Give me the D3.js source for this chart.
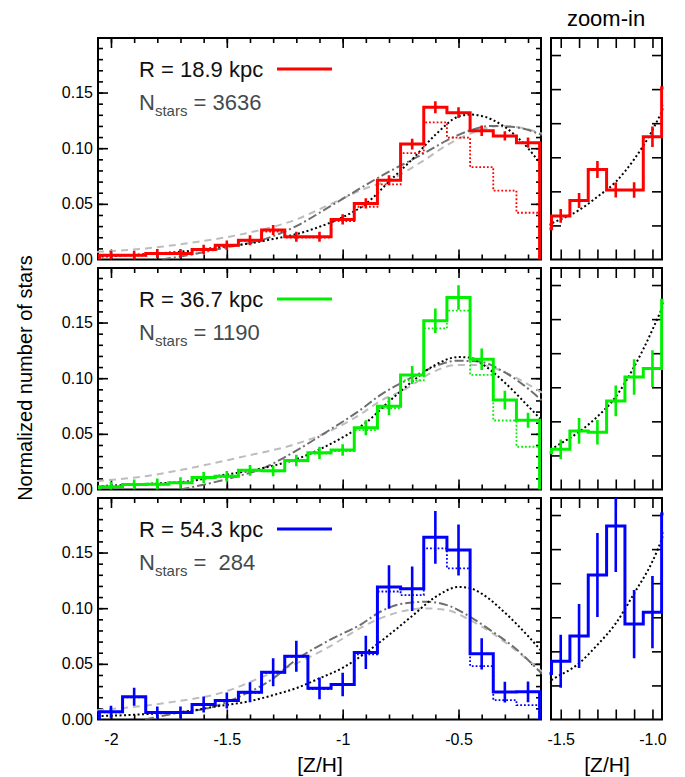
<!DOCTYPE html>
<html>
<head>
<meta charset="utf-8">
<title>[Z/H] distributions at three radii</title>
<script src="https://d3js.org/d3.v7.min.js"></script>
<style>
  body { margin: 0; background: #fff; }
  text { font-family: "Liberation Sans", Arial, Helvetica, sans-serif; }
</style>
</head>
<body>
<svg id="chart" width="685" height="777"></svg>
<script>
// histogram bins, 0.1 dex wide
var binCenters = [-2.0, -1.9, -1.8, -1.7, -1.6, -1.5, -1.4, -1.3, -1.2, -1.1, -1.0,
                  -0.9, -0.8, -0.7, -0.6, -0.5, -0.4, -0.3, -0.2];
var binWidth = 0.1;

var radii = ["18.9", "36.7", "54.3"];
var nStars = ["3636", "1190", " 284"];
var colors = ["#ff0000", "#00f000", "#0000ff"];

// R = 18.9 kpc
var redHist    = [0.0039, 0.0039, 0.0054, 0.0054, 0.009, 0.0128, 0.0173, 0.0264, 0.0204, 0.0204, 0.036,
                  0.0504, 0.0713, 0.1037, 0.1367, 0.1319, 0.1157, 0.111, 0.105];
var redHistDot = [0.0035, 0.0035, 0.005, 0.005, 0.0085, 0.0124, 0.0168, 0.025, 0.0196, 0.0196, 0.0345,
                  0.0474, 0.0675, 0.0956, 0.1232, 0.1095, 0.083, 0.0618, 0.042];
var redErr     = [0.004, 0.004, 0.004, 0.004, 0.0042, 0.0042, 0.0044, 0.0045, 0.0045, 0.0045, 0.0046,
                  0.0046, 0.0045, 0.0048, 0.0054, 0.0048, 0.0048, 0.0042, 0.0045];
var redZoomErr = [0.002, 0.0022, 0.0025, 0.0022, 0.0023, 0.003];

// R = 36.7 kpc
var greenHist    = [0.0024, 0.0045, 0.0048, 0.006, 0.0108, 0.0118, 0.0172, 0.0168, 0.026, 0.033, 0.0355,
                    0.0555, 0.0749, 0.1028, 0.1517, 0.1724, 0.117, 0.0803, 0.0622];
var greenHistDot = [0.0022, 0.0042, 0.0045, 0.0057, 0.0104, 0.0114, 0.0166, 0.0164, 0.0252, 0.0322, 0.0345,
                    0.0534, 0.0728, 0.098, 0.1448, 0.1607, 0.103, 0.062, 0.0384];
var greenErr     = [0.0045, 0.0045, 0.005, 0.005, 0.005, 0.0048, 0.0048, 0.0048, 0.0052, 0.0055, 0.0052,
                    0.0067, 0.0082, 0.0081, 0.011, 0.011, 0.0097, 0.0084, 0.0067];
var greenZoomErr = [0.0029, 0.0038, 0.0036, 0.0045, 0.0052, 0.0054];

// R = 54.3 kpc
var blueHist    = [0.0069, 0.0204, 0.0063, 0.0063, 0.0135, 0.0171, 0.0245, 0.0424, 0.0568, 0.028, 0.0315,
                   0.0603, 0.119, 0.1174, 0.1637, 0.1523, 0.059, 0.0246, 0.0249];
var blueHistDot = [0.0065, 0.02, 0.006, 0.006, 0.013, 0.0167, 0.024, 0.0418, 0.0562, 0.0274, 0.031,
                   0.0585, 0.1150, 0.1118, 0.1538, 0.1358, 0.048, 0.0174, 0.0129];
var blueErr     = [0.0054, 0.0081, 0.0054, 0.0054, 0.0072, 0.0072, 0.009, 0.0126, 0.014, 0.0097, 0.0105,
                   0.015, 0.0195, 0.02, 0.0237, 0.023, 0.014, 0.0093, 0.0093];
var blueZoomErr = [0.0078, 0.0094, 0.0123, 0.0135, 0.01, 0.0106];

var zoomBins = [-1.5, -1.4, -1.3, -1.2, -1.1, -1.0];

// model curves, [ [Z/H], fraction ]
var blackTop = [[-2.06, 0.0024], [-1.85, 0.0048], [-1.65, 0.008], [-1.55, 0.0106], [-1.4, 0.0145],
  [-1.3, 0.0184], [-1.2, 0.0228], [-1.1, 0.0294], [-1.0, 0.038], [-0.9, 0.05], [-0.8, 0.07],
  [-0.7, 0.09], [-0.6, 0.112], [-0.5, 0.1285], [-0.45, 0.1302], [-0.4, 0.129], [-0.3, 0.119],
  [-0.2, 0.1], [-0.14, 0.084]];
var dashDotTop = [[-1.78, 0], [-1.65, 0.0045], [-1.5, 0.011], [-1.35, 0.0175], [-1.2, 0.03],
  [-1.06, 0.047], [-0.9, 0.067], [-0.84, 0.0743], [-0.65, 0.0953], [-0.55, 0.107], [-0.45, 0.116],
  [-0.36, 0.12], [-0.26, 0.119], [-0.14, 0.112]];
var dashedTop = [[-2.06, 0.0068], [-1.85, 0.0099], [-1.63, 0.0158], [-1.42, 0.0234], [-1.2, 0.036],
  [-1.06, 0.049], [-0.9, 0.064], [-0.8, 0.0713], [-0.65, 0.089], [-0.55, 0.1028], [-0.41, 0.116],
  [-0.32, 0.12], [-0.22, 0.118], [-0.14, 0.113]];

var blackMid = [[-2.06, 0.003], [-1.85, 0.005], [-1.65, 0.0078], [-1.55, 0.0118], [-1.4, 0.0169],
  [-1.3, 0.0214], [-1.2, 0.0272], [-1.1, 0.036], [-1.0, 0.0469], [-0.9, 0.06], [-0.8, 0.079],
  [-0.7, 0.097], [-0.6, 0.112], [-0.5, 0.119], [-0.45, 0.1185], [-0.4, 0.113], [-0.3, 0.096],
  [-0.2, 0.075], [-0.14, 0.062]];
var dashDotMid = [[-1.7, 0], [-1.49, 0.0099], [-1.345, 0.019], [-1.2, 0.035], [-1.06, 0.053],
  [-0.92, 0.072], [-0.838, 0.0848], [-0.723, 0.0983], [-0.622, 0.1088], [-0.507, 0.1157],
  [-0.406, 0.1148], [-0.305, 0.1058], [-0.219, 0.0938], [-0.14, 0.08]];
var dashedMid = [[-2.06, 0.0077], [-1.85, 0.012], [-1.633, 0.0203], [-1.42, 0.03], [-1.2, 0.041],
  [-1.06, 0.052], [-0.92, 0.068], [-0.838, 0.0795], [-0.723, 0.0908], [-0.622, 0.1043],
  [-0.507, 0.1118], [-0.406, 0.1118], [-0.305, 0.1058], [-0.219, 0.0968], [-0.14, 0.087]];

var blackBot = [[-2.06, 0.003], [-1.85, 0.0048], [-1.65, 0.008], [-1.55, 0.0116], [-1.4, 0.0165],
  [-1.3, 0.0219], [-1.2, 0.0282], [-1.1, 0.037], [-1.0, 0.0464], [-0.9, 0.06], [-0.8, 0.076],
  [-0.7, 0.093], [-0.6, 0.11], [-0.5, 0.119], [-0.45, 0.118], [-0.4, 0.113], [-0.3, 0.096],
  [-0.2, 0.075], [-0.14, 0.061]];
var dashDotBot = [[-1.853, 0], [-1.71, 0.006], [-1.565, 0.011], [-1.42, 0.023], [-1.306, 0.036],
  [-1.205, 0.053], [-1.06, 0.071], [-0.917, 0.086], [-0.838, 0.0968], [-0.752, 0.1037],
  [-0.637, 0.1058], [-0.55, 0.1028], [-0.45, 0.0923], [-0.363, 0.0803], [-0.263, 0.0653],
  [-0.14, 0.041]];
var dashedBot = [[-2.06, 0.0084], [-1.78, 0.0144], [-1.493, 0.026], [-1.35, 0.038], [-1.205, 0.05],
  [-1.061, 0.065], [-0.917, 0.083], [-0.838, 0.0908], [-0.752, 0.0968], [-0.637, 0.0998],
  [-0.55, 0.0983], [-0.45, 0.0893], [-0.363, 0.0788], [-0.263, 0.0638], [-0.14, 0.043]];

// axis ticks
var xMinorTicks = d3.range(-20, -1).map(function(i) { return i / 10; });
var xMajorTicks = [-2, -1.5, -1, -0.5];
var xMajorLabels = ["-2", "-1.5", "-1", "-0.5"];
var yMinorTicks = d3.range(1, 20).map(function(i) { return i / 100; });
var yMajorTicks = [0, 0.05, 0.1, 0.15];
var yMajorLabels = ["0.00", "0.05", "0.10", "0.15"];
var zxTicks = [-1.5, -1.4, -1.3, -1.2, -1.1, -1.0];
var zxLabels = ["-1.5", "-1.0"];
var zyTicks = [0.01, 0.02, 0.03, 0.04, 0.05, 0.06];

var panels = [
  { hist: redHist, dot: redHistDot, err: redErr, zerr: redZoomErr, black: blackTop, dd: dashDotTop, dash: dashedTop },
  { hist: greenHist, dot: greenHistDot, err: greenErr, zerr: greenZoomErr, black: blackMid, dd: dashDotMid, dash: dashedMid },
  { hist: blueHist, dot: blueHistDot, err: blueErr, zerr: blueZoomErr, black: blackBot, dd: dashDotBot, dash: dashedBot }
];

var svg = d3.select("#chart");
var mainL = 98, mainR = 541, zoomL = 551, zoomR = 662;
var panelH = 221.5, firstTop = 38, step = 230;

var x = d3.scaleLinear().domain([-2.056, -0.144]).range([mainL, mainR]);
var xz = d3.scaleLinear().domain([-1.553, -0.948]).range([zoomL, zoomR]);

function stepPoints(vals) {
  var pts = [];
  binCenters.forEach(function(c, i) {
    var l = c - binWidth / 2, r = c + binWidth / 2;
    if (i === 0) pts.push([l, 0]);
    pts.push([l, vals[i]]);
    pts.push([r, vals[i]]);
  });
  pts.push([binCenters[binCenters.length - 1] + binWidth / 2, 0]);
  return pts;
}

function styleAxis(a) {
  a.select(".domain").remove();
  a.selectAll("line").attr("stroke", "#000").attr("stroke-width", 1.6);
  a.selectAll("text").attr("font-size", 16).attr("fill", "#000")
    .attr("font-family", "Liberation Sans, Arial, sans-serif");
}

function ticksAxes(g, xs, ys, top, xMin, xMaj, yMin, yMaj, minLen, majLen) {
  var bottom = top + panelH, l = xs.range()[0], r = xs.range()[1];
  var sets = [[xMin, minLen], [xMaj, majLen]];
  sets.forEach(function(s) {
    if (!s[0].length) return;
    g.append("g").attr("transform", "translate(0," + bottom + ")")
      .call(d3.axisBottom(xs).tickValues(s[0]).tickSize(-s[1]).tickFormat("")).call(styleAxis);
    g.append("g").attr("transform", "translate(0," + top + ")")
      .call(d3.axisTop(xs).tickValues(s[0]).tickSize(-s[1]).tickFormat("")).call(styleAxis);
  });
  [[yMin, minLen], [yMaj, majLen]].forEach(function(s) {
    if (!s[0].length) return;
    g.append("g").attr("transform", "translate(" + l + ",0)")
      .call(d3.axisLeft(ys).tickValues(s[0]).tickSize(-s[1]).tickFormat("")).call(styleAxis);
    g.append("g").attr("transform", "translate(" + r + ",0)")
      .call(d3.axisRight(ys).tickValues(s[0]).tickSize(-s[1]).tickFormat("")).call(styleAxis);
  });
  g.append("rect").attr("x", l).attr("y", top).attr("width", r - l).attr("height", panelH)
    .attr("fill", "none").attr("stroke", "#000").attr("stroke-width", 2);
}

panels.forEach(function(p, i) {
  var top = firstTop + i * step, bottom = top + panelH;
  var y = d3.scaleLinear().domain([0, 0.199]).range([bottom, top]);
  var yz = d3.scaleLinear().domain([0, 0.065]).range([bottom, top]);
  var col = colors[i];

  // clip paths
  svg.append("clipPath").attr("id", "cm" + i).append("rect")
    .attr("x", mainL - 1.5).attr("y", top).attr("width", mainR - mainL + 3).attr("height", panelH);
  svg.append("clipPath").attr("id", "cz" + i).append("rect")
    .attr("x", zoomL - 1.5).attr("y", top).attr("width", zoomR - zoomL + 3).attr("height", panelH);

  // ---------- main panel ----------
  var gm = svg.append("g");
  ticksAxes(gm, x, y, top, xMinorTicks, xMajorTicks, yMinorTicks, yMajorTicks.slice(1), 5, 10);

  // y labels
  gm.append("g").attr("transform", "translate(" + mainL + ",0)")
    .call(d3.axisLeft(y).tickValues(yMajorTicks).tickSize(0).tickPadding(5)
      .tickFormat(function(d, k) { return yMajorLabels[k]; }))
    .call(styleAxis);

  var cm = gm.append("g").attr("clip-path", "url(#cm" + i + ")");
  var line = d3.line().x(function(d) { return x(d[0]); }).y(function(d) { return y(d[1]); });
  var curve = d3.line().curve(d3.curveMonotoneX)
    .x(function(d) { return x(d[0]); }).y(function(d) { return y(d[1]); });

  cm.append("path").attr("d", curve(p.dash)).attr("fill", "none")
    .attr("stroke", "#bdbdbd").attr("stroke-width", 2).attr("stroke-dasharray", "7,5");
  cm.append("path").attr("d", curve(p.dd)).attr("fill", "none")
    .attr("stroke", "#6f6f6f").attr("stroke-width", 2).attr("stroke-dasharray", "9,3,2,3");
  cm.append("path").attr("d", curve(p.black)).attr("fill", "none")
    .attr("stroke", "#000").attr("stroke-width", 2).attr("stroke-dasharray", "2,2.5");

  cm.append("path").attr("d", line(stepPoints(p.dot))).attr("fill", "none")
    .attr("stroke", col).attr("stroke-width", 1.8).attr("stroke-dasharray", "1.8,2");
  cm.append("path").attr("d", line(stepPoints(p.hist))).attr("fill", "none")
    .attr("stroke", col).attr("stroke-width", 3).attr("stroke-linejoin", "miter");
  cm.selectAll(".err").data(binCenters).enter().append("line")
    .attr("x1", function(d) { return x(d); }).attr("x2", function(d) { return x(d); })
    .attr("y1", function(d, k) { return y(p.hist[k] - p.err[k]); })
    .attr("y2", function(d, k) { return y(p.hist[k] + p.err[k]); })
    .attr("stroke", col).attr("stroke-width", 2.6);

  // legend
  gm.append("text").attr("x", 139).attr("y", top + 38.7).attr("font-size", 22).attr("fill", "#111")
    .text("R = " + radii[i] + " kpc");
  gm.append("line").attr("x1", 277).attr("x2", 332).attr("y1", top + 31).attr("y2", top + 31)
    .attr("stroke", col).attr("stroke-width", 3);
  var nt = gm.append("text").attr("x", 139).attr("y", top + 72).attr("font-size", 22)
    .attr("fill", "#434b4b").style("white-space", "pre");
  nt.append("tspan").text("N");
  nt.append("tspan").attr("font-size", 15).attr("dy", 6).text("stars");
  nt.append("tspan").attr("dy", -6).text(" = " + nStars[i]);

  // ---------- zoom-in panel ----------
  var gz = svg.append("g");
  ticksAxes(gz, xz, yz, top, zxTicks, [], zyTicks, [], 10, 10);
  var cz = gz.append("g").attr("clip-path", "url(#cz" + i + ")");
  var zline = d3.line().x(function(d) { return xz(d[0]); }).y(function(d) { return yz(d[1]); });
  var zcurve = d3.line().curve(d3.curveMonotoneX)
    .x(function(d) { return xz(d[0]); }).y(function(d) { return yz(d[1]); });
  cz.append("path").attr("d", zcurve(p.black)).attr("fill", "none")
    .attr("stroke", "#000").attr("stroke-width", 2).attr("stroke-dasharray", "2,2.5");
  cz.append("path").attr("d", zline(stepPoints(p.hist))).attr("fill", "none")
    .attr("stroke", col).attr("stroke-width", 3);
  cz.selectAll(".zerr").data(zoomBins).enter().append("line")
    .attr("x1", function(d) { return xz(d); }).attr("x2", function(d) { return xz(d); })
    .attr("y1", function(d) { var k = binCenters.indexOf(d); return yz(p.hist[k] - p.zerr[zoomBins.indexOf(d)]); })
    .attr("y2", function(d) { var k = binCenters.indexOf(d); return yz(p.hist[k] + p.zerr[zoomBins.indexOf(d)]); })
    .attr("stroke", col).attr("stroke-width", 2.6);

  // x labels on bottom panel
  if (i === 2) {
    svg.append("g").attr("transform", "translate(0," + bottom + ")")
      .call(d3.axisBottom(x).tickValues(xMajorTicks).tickSize(0).tickPadding(14)
        .tickFormat(function(d, k) { return xMajorLabels[k]; }))
      .call(styleAxis);
    svg.append("g").attr("transform", "translate(0," + bottom + ")")
      .call(d3.axisBottom(xz).tickValues([-1.5, -1.0]).tickSize(0).tickPadding(14)
        .tickFormat(function(d, k) { return zxLabels[k]; }))
      .call(styleAxis);
  }
});

// titles
svg.append("text").attr("x", 606).attr("y", 26).attr("text-anchor", "middle")
  .attr("font-size", 22).text("zoom-in");
svg.append("text").attr("x", 320).attr("y", 772).attr("text-anchor", "middle")
  .attr("font-size", 21).text("[Z/H]");
svg.append("text").attr("x", 607).attr("y", 772).attr("text-anchor", "middle")
  .attr("font-size", 21).text("[Z/H]");
svg.append("text").attr("transform", "translate(32,378) rotate(-90)")
  .attr("text-anchor", "middle").attr("font-size", 20).text("Normalized number of stars");
</script>
</body>
</html>
